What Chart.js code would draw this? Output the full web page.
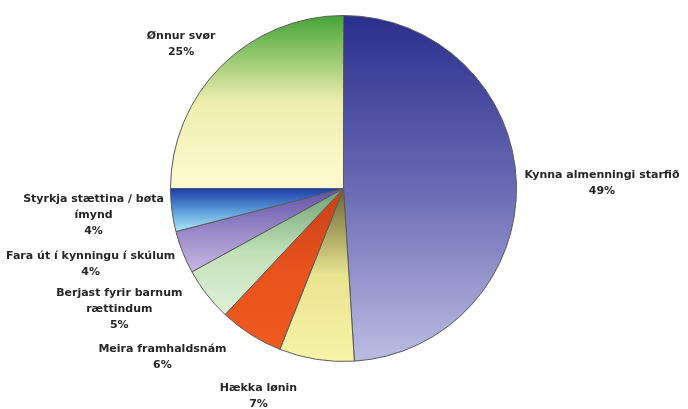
<!DOCTYPE html>
<html>
<head>
<meta charset="utf-8">
<script src="https://cdn.jsdelivr.net/npm/chart.js@4/dist/chart.umd.min.js"></script>
<style>
  html, body { margin: 0; padding: 0; background: #ffffff; }
  #wrap { width: 688px; height: 409px; }
</style>
</head>
<body>
<div id="wrap"><canvas id="c" width="688" height="409"></canvas></div>
<script>
// ---- data ----
const categories = [
  ['Kynna almenningi starfið'],
  ['Hækka lønin'],
  ['Meira framhaldsnám'],
  ['Berjast fyrir barnum', 'rættindum'],
  ['Fara út í kynningu í skúlum'],
  ['Styrkja stættina / bøta', 'ímynd'],
  ['Ønnur svør']
];
const values = [49, 7, 6, 5, 4, 4, 25];

// ---- styling (not data) ----
const sliceGradients = [
  ['#2a2e8c', '#6a6ab4', '#bcbde2'],
  ['#6a6430', '#e8e490', '#f8f4a8'],
  ['#c8401a', '#e8521c', '#ee5a20'],
  ['#70a070', '#c0e0b8', '#e0f2d8'],
  ['#6050a8', '#9888c8', '#c8b8e4'],
  ['#1c3ca8', '#5898d8', '#b0ecf8'],
  ['#44a436', '#eeeeae', '#fffbd2']
];
const labelNudges = [[0, 0], [-18, 13], [-20, 0], [-18, -14], [0, -7], [0, 4], [0, 0]];

function sliceGradient(context) {
  const chart = context.chart;
  const i = context.dataIndex;
  const stops = sliceGradients[i];
  const area = chart.chartArea;
  if (!area) return stops[1];
  const cx = (area.left + area.right) / 2;
  const cy = (area.top + area.bottom) / 2;
  const r = Math.min(area.right - area.left, area.bottom - area.top) / 2;
  const total = values.reduce((a, b) => a + b, 0);
  let before = 0;
  for (let k = 0; k < i; k++) before += values[k];
  const a0 = -Math.PI / 2 + before / total * 2 * Math.PI;
  const a1 = a0 + values[i] / total * 2 * Math.PI;
  const ys = [cy];
  const n = 48;
  for (let k = 0; k <= n; k++) {
    const a = a0 + (a1 - a0) * k / n;
    ys.push(cy + Math.sin(a) * r);
  }
  const y0 = Math.min(...ys), y1 = Math.max(...ys);
  if (!(y1 > y0)) return stops[1];
  const g = chart.ctx.createLinearGradient(0, y0, 0, y1);
  g.addColorStop(0, stops[0]);
  g.addColorStop(0.5, stops[1]);
  g.addColorStop(1, stops[2]);
  return g;
}

const outsideLabels = {
  id: 'outsideLabels',
  afterDatasetsDraw(chart) {
    const ctx = chart.ctx;
    const meta = chart.getDatasetMeta(0);
    const total = values.reduce((a, b) => a + b, 0);
    ctx.save();
    ctx.font = 'bold 11px "DejaVu Sans", Verdana, sans-serif';
    ctx.fillStyle = '#262626';
    ctx.textBaseline = 'middle';
    ctx.textAlign = 'center';
    const lh = 16;
    meta.data.forEach((arc, i) => {
      const p = arc.getProps(['x', 'y', 'startAngle', 'endAngle', 'outerRadius'], true);
      const mid = (p.startAngle + p.endAngle) / 2;
      const dx = Math.cos(mid), dy = Math.sin(mid);
      const d = p.outerRadius + 8;
      const ax = p.x + dx * d, ay = p.y + dy * d;
      const lines = categories[i].concat([Math.round(values[i] / total * 100) + '%']);
      const w = Math.max(...lines.map(s => ctx.measureText(s).width));
      const h = lines.length * lh;
      let left;
      if (dx > 0.1) left = ax; else if (dx < -0.1) left = ax - w; else left = ax - w / 2;
      let top;
      if (dy < -0.2) top = ay - h; else if (dy > 0.2) top = ay; else top = ay - h / 2;
      left += labelNudges[i][0];
      top += labelNudges[i][1];
      lines.forEach((s, k) => {
        ctx.fillText(s, left + w / 2, top + lh * k + lh / 2);
      });
    });
    ctx.restore();
  }
};

new Chart(document.getElementById('c'), {
  type: 'pie',
  data: {
    labels: categories.map(l => l.join(' ')),
    datasets: [{
      data: values,
      backgroundColor: sliceGradient,
      borderColor: '#5a5a5a',
      borderWidth: 1
    }]
  },
  options: {
    responsive: false,
    animation: false,
    layout: { padding: { left: 170, right: 171, top: 15, bottom: 47 } },
    plugins: {
      legend: { display: false },
      tooltip: { enabled: false }
    }
  },
  plugins: [outsideLabels]
});
</script>
</body>
</html>
